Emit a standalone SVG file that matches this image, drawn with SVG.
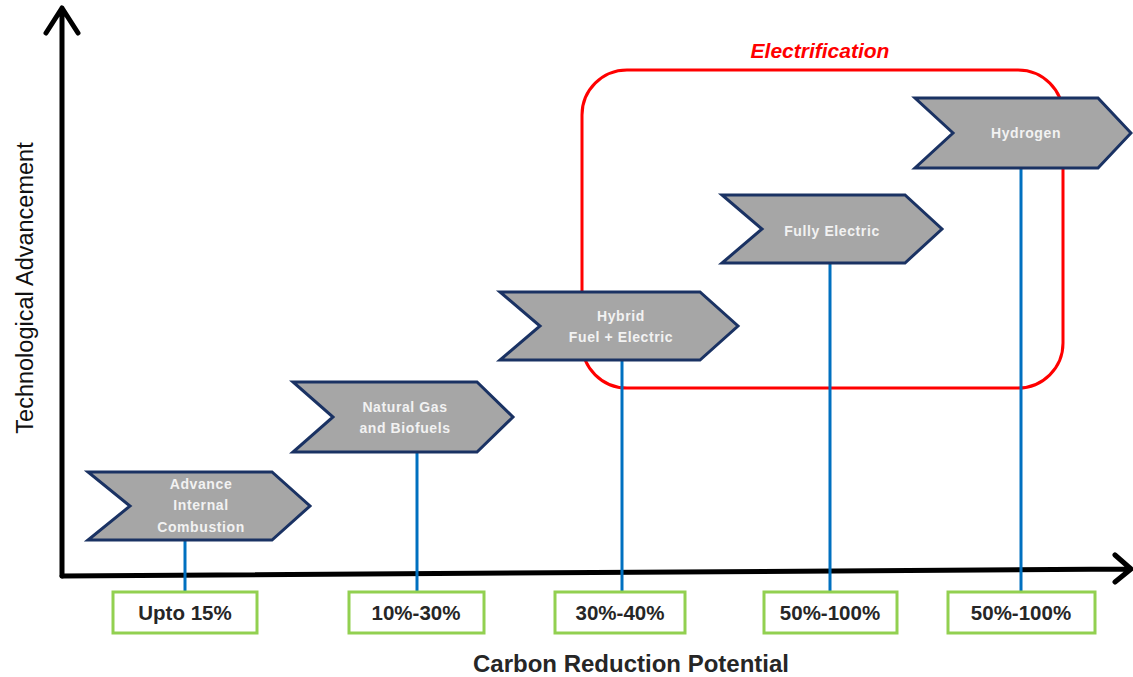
<svg xmlns="http://www.w3.org/2000/svg" width="1133" height="677" viewBox="0 0 1133 677">
<style>
.chev{fill:#a6a6a6;stroke:#1a3263;stroke-width:3;stroke-linejoin:miter}
.ct{font-family:"Liberation Sans",Arial,sans-serif;font-weight:bold;font-size:14px;fill:#f2f2f2;text-anchor:middle;letter-spacing:0.6px}
.box{fill:#fff;stroke:#92d050;stroke-width:3}
.bt{font-family:"Liberation Sans",Arial,sans-serif;font-weight:bold;font-size:20.5px;fill:#262626;text-anchor:middle}
.stem{stroke:#0070c0;stroke-width:3;fill:none}
.axis{stroke:#000;stroke-width:5;fill:none;stroke-linecap:round;stroke-linejoin:round}
</style>
<rect width="1133" height="677" fill="#fff"/>
<g id="electrification">
<rect x="582" y="70" width="481" height="318" rx="45" ry="45" fill="none" stroke="#ff0000" stroke-width="3"/>
<text x="820" y="58" font-family="Liberation Sans,Arial,sans-serif" font-weight="bold" font-style="italic" font-size="21" fill="#ff0000" text-anchor="middle">Electrification</text>
</g>
<g id="axes">
<path class="axis" d="M62,576 L62,8 M46,33 L62,8 L78,33"/>
<path class="axis" d="M62,576 L1129,569 M1115,555 L1131,569 L1115,582"/>
<text transform="translate(33,288) rotate(-90)" font-family="Liberation Sans,Arial,sans-serif" font-size="23.5" fill="#111" text-anchor="middle">Technological Advancement</text>
<text x="631" y="672" font-family="Liberation Sans,Arial,sans-serif" font-weight="bold" font-size="24" fill="#262626" text-anchor="middle">Carbon Reduction Potential</text>
</g>
<g id="connectors">
<line class="stem" x1="185" y1="541" x2="185" y2="592"/>
<line class="stem" x1="417" y1="452" x2="417" y2="592"/>
<line class="stem" x1="622" y1="360" x2="622" y2="592"/>
<line class="stem" x1="830" y1="263" x2="830" y2="592"/>
<line class="stem" x1="1021" y1="168" x2="1021" y2="592"/>
</g>
<g id="node-advance">
<polygon class="chev" points="88,472 272,472 310,506 272,540 88,540 130,506"/>
<text class="ct" x="201" y="489">Advance</text>
<text class="ct" x="201" y="510">Internal</text>
<text class="ct" x="201" y="532">Combustion</text>
</g>
<g id="node-natgas">
<polygon class="chev" points="293,382 477,382 513,417 477,452 293,452 333,417"/>
<text class="ct" x="405" y="412">Natural Gas</text>
<text class="ct" x="405" y="433">and Biofuels</text>
</g>
<g id="node-hybrid">
<polygon class="chev" points="500,292 700,292 738,326 700,360 500,360 540,326"/>
<text class="ct" x="621" y="321">Hybrid</text>
<text class="ct" x="621" y="342">Fuel + Electric</text>
</g>
<g id="node-electric">
<polygon class="chev" points="722,195 905,195 942,229 905,263 722,263 762,229"/>
<text class="ct" x="832" y="236">Fully Electric</text>
</g>
<g id="node-hydrogen">
<polygon class="chev" points="915,98 1098,98 1131,133 1098,168 915,168 953,133"/>
<text class="ct" x="1026" y="138">Hydrogen</text>
</g>
<g id="box-1"><rect class="box" x="113" y="592" width="144" height="41"/><text class="bt" x="185" y="620">Upto 15%</text></g>
<g id="box-2"><rect class="box" x="349" y="592" width="135" height="41"/><text class="bt" x="416" y="620">10%-30%</text></g>
<g id="box-3"><rect class="box" x="555" y="592" width="130" height="41"/><text class="bt" x="620" y="620">30%-40%</text></g>
<g id="box-4"><rect class="box" x="764" y="592" width="133" height="41"/><text class="bt" x="830" y="620">50%-100%</text></g>
<g id="box-5"><rect class="box" x="948" y="592" width="147" height="41"/><text class="bt" x="1021" y="620">50%-100%</text></g>
</svg>
